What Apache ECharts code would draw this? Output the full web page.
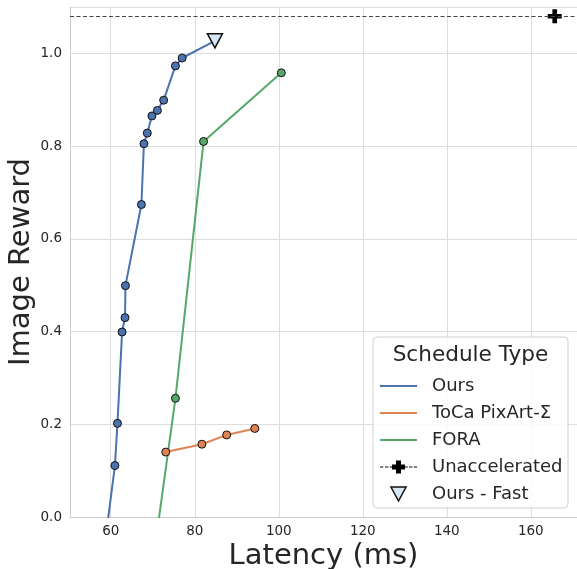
<!DOCTYPE html>
<html>
<head>
<meta charset="utf-8">
<script src="https://cdn.jsdelivr.net/npm/echarts@6/dist/echarts.min.js"></script>
<style>
    html, body { margin: 0; padding: 0; background: #fff; }
    #chart { width: 577px; height: 569px; }
</style>
</head>
<body>
<div id="chart"></div>
<script>
    // 数据：延迟 (ms) 与 Image Reward
    var oursLatency = [58.0, 61.0, 61.6, 62.7, 63.4, 63.5, 67.3, 67.9, 68.7, 69.8, 71.1, 72.6, 75.4, 77.0];
    var oursReward = [-0.10, 0.111, 0.202, 0.399, 0.430, 0.499, 0.674, 0.805, 0.828, 0.865, 0.877, 0.899, 0.973, 0.990];
    var tocaLatency = [73.1, 81.7, 87.6, 94.3];
    var tocaReward = [0.140, 0.157, 0.177, 0.191];
    var foraLatency = [70.0, 75.4, 82.1, 100.6];
    var foraReward = [-0.10, 0.256, 0.810, 0.958];
    var unaccLatency = [165.7];
    var unaccReward = [1.08];
    var fastLatency = [84.8];
    var fastReward = [1.027];

    var FONT = 'DejaVu Sans';
    var TEXT = '#262626';

    function pairs(xs, ys) {
        var out = [];
        for (var i = 0; i < xs.length; i++) out.push([xs[i], ys[i]]);
        return out;
    }

    // Ours - Fast 从 Ours 最后一个点连线
    var last = oursLatency.length - 1;
    var fastData = [{value: [oursLatency[last], oursReward[last]], symbol: 'none'}];
    for (var i = 0; i < fastLatency.length; i++) fastData.push([fastLatency[i], fastReward[i]]);

    var lineIcon = 'path://M0,0h40v2h-40z';
    var plusIcon = 'path://M0,6.4h3.5v1.2h-3.5z M5.5,6.4h3.5v1.2h-3.5z M10.5,6.4h3v1.2h-3z ' +
        'M13,4.3h14v5.4h-14z M17.3,0h5.4v14h-5.4z ' +
        'M27,6.4h3v1.2h-3z M31.5,6.4h3.5v1.2h-3.5z M36.5,6.4h3.5v1.2h-3.5z';
    var triIcon = 'path://M0,0L14,0L7,13Z';

    var chart = echarts.init(document.getElementById('chart'));
    chart.setOption({
        animation: false,
        textStyle: {fontFamily: FONT},
        grid: {left: 70, right: 0, top: 7, bottom: 52, outerBoundsMode: 'none'},
        xAxis: {
            type: 'value',
            min: 50.3,
            max: 171,
            splitNumber: 6,
            name: 'Latency (ms)',
            nameLocation: 'middle',
            nameGap: 25,
            nameMoveOverlap: false,
            nameTextStyle: {fontSize: 29, color: TEXT, fontFamily: FONT},
            axisLine: {show: true, lineStyle: {color: '#cccccc', width: 1}},
            axisTick: {show: false},
            axisLabel: {
                fontSize: 13.5, color: TEXT, margin: 7, fontFamily: FONT,
                showMinLabel: false, showMaxLabel: false,
                formatter: function (v) { return (Math.abs(v % 20) < 1e-6) ? String(v) : ''; }
            },
            splitLine: {show: true, lineStyle: {color: '#dddddd', width: 1}}
        },
        yAxis: {
            type: 'value',
            min: 0,
            max: 1.1,
            interval: 0.2,
            name: 'Image Reward',
            nameLocation: 'middle',
            nameGap: 34,
            nameMoveOverlap: false,
            nameTextStyle: {fontSize: 29, color: TEXT, fontFamily: FONT},
            axisLine: {show: true, lineStyle: {color: '#cccccc', width: 1}},
            axisTick: {show: false},
            axisLabel: {
                fontSize: 13.5, color: TEXT, margin: 8, fontFamily: FONT,
                showMaxLabel: false,
                formatter: function (v) { return v.toFixed(1); }
            },
            splitLine: {show: true, lineStyle: {color: '#dddddd', width: 1}}
        },
        legend: {
            orient: 'vertical',
            left: 375,
            top: 372,
            itemGap: 9,
            itemWidth: 37,
            itemHeight: 14,
            z: 5,
            textStyle: {fontSize: 18, color: TEXT, fontFamily: FONT, padding: [0, 0, 0, 10]},
            data: [
                {name: 'Ours', icon: lineIcon, itemStyle: {color: '#4c72b0', borderWidth: 0}},
                {name: 'ToCa PixArt-Σ', icon: lineIcon, itemStyle: {color: '#dd8452', borderWidth: 0}},
                {name: 'FORA', icon: lineIcon, itemStyle: {color: '#55a868', borderWidth: 0}},
                {name: 'Unaccelerated', icon: plusIcon, itemStyle: {color: '#000000', borderWidth: 0}},
                {name: 'Ours - Fast', icon: triIcon, itemStyle: {color: '#d6e6f5', borderColor: '#111111', borderWidth: 1.5}}
            ]
        },
        graphic: [
            {
                type: 'rect', z: 3,
                shape: {x: 373, y: 337, width: 195, height: 171, r: 4},
                style: {fill: 'rgba(255,255,255,0.85)', stroke: '#d0d0d0', lineWidth: 1}
            },
            {
                type: 'text', z: 4,
                x: 470.5, y: 355,
                style: {text: 'Schedule Type', fontSize: 21.6, fontFamily: FONT, fill: TEXT, align: 'center', verticalAlign: 'middle'}
            }
        ],
        series: [
            {
                name: 'Ours', type: 'line', z: 2,
                data: pairs(oursLatency, oursReward),
                symbol: 'circle', symbolSize: 8,
                lineStyle: {color: '#4c72b0', width: 2},
                itemStyle: {color: '#4c72b0', borderColor: '#111111', borderWidth: 1}
            },
            {
                name: 'ToCa PixArt-Σ', type: 'line', z: 2,
                data: pairs(tocaLatency, tocaReward),
                symbol: 'circle', symbolSize: 8,
                lineStyle: {color: '#dd8452', width: 2},
                itemStyle: {color: '#dd8452', borderColor: '#111111', borderWidth: 1}
            },
            {
                name: 'FORA', type: 'line', z: 2,
                data: pairs(foraLatency, foraReward),
                symbol: 'circle', symbolSize: 8,
                lineStyle: {color: '#55a868', width: 2},
                itemStyle: {color: '#55a868', borderColor: '#111111', borderWidth: 1}
            },
            {
                name: 'Unaccelerated', type: 'line', z: 3,
                data: pairs(unaccLatency, unaccReward),
                symbol: 'path://M-1,-3h2v2h2v2h-2v2h-2v-2h-2v-2h2z', symbolSize: 14,
                itemStyle: {color: '#000000'},
                lineStyle: {width: 0},
                markLine: {
                    silent: true,
                    symbol: 'none',
                    label: {show: false},
                    lineStyle: {color: '#444444', width: 1.2, type: [4, 2.5]},
                    data: [{yAxis: unaccReward[0]}]
                }
            },
            {
                name: 'Ours - Fast', type: 'line', z: 2,
                data: fastData,
                symbol: 'path://M0,0L14,0L7,13Z', symbolSize: [15, 14],
                lineStyle: {color: '#4c72b0', width: 2},
                itemStyle: {color: '#d6e6f5', borderColor: '#111111', borderWidth: 1.5}
            }
        ]
    });
</script>
</body>
</html>
